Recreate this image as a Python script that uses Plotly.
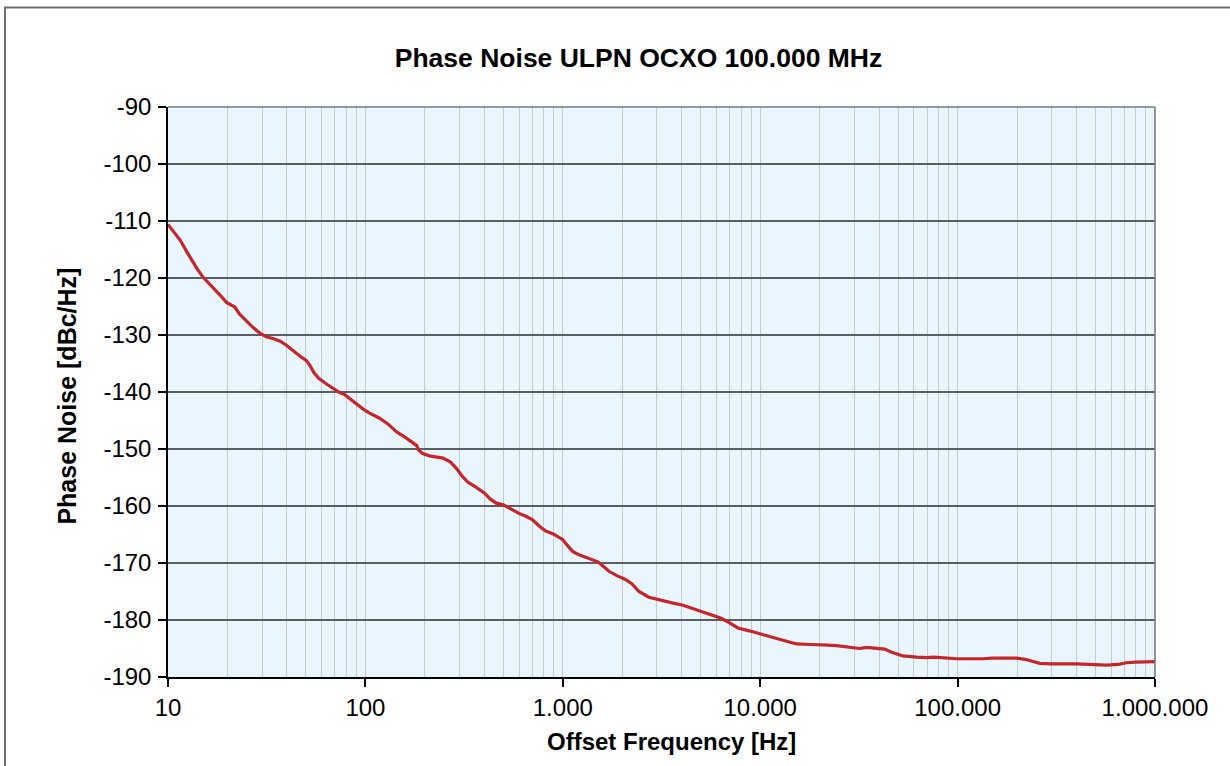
import plotly.graph_objects as go

freq_hz = [10, 11, 11.5, 12.5, 13.4, 14, 15, 16.2, 17.6, 18.8, 19.8, 21, 21.8, 23, 24.9, 27, 29.2,
           31.5, 34, 37, 39.8, 43, 47, 50.3, 52.5, 54.8, 58, 63.5, 68, 74, 78, 82, 88, 97.4, 105,
           118, 130, 144, 160, 174, 182, 186, 195, 211, 230, 247, 270, 289, 310, 330, 360, 400,
           430, 460, 500, 540, 600, 650, 700, 764, 820, 895, 950, 1000, 1060, 1125, 1200, 1315,
           1420, 1505, 1620, 1720, 1900, 2080, 2250, 2430, 2730, 3100, 3580, 4064, 4500, 4930,
           5600, 6350, 7000, 7710, 8800, 9940, 11000, 12070, 13500, 15250, 18000, 20800, 22000,
           24300, 28000, 31900, 34500, 38000, 42700, 46000, 52800, 61800, 70000, 76000, 84300,
           98600, 134600, 150000, 198600, 220000, 260600, 300000, 400000, 500000, 567000, 650000,
           716000, 800000, 1000000]
noise_dbc = [-110.6, -112.3, -113.3, -115.5, -117.3, -118.3, -119.8, -121.0, -122.2, -123.4, -124.3,
             -124.8, -125.1, -126.3, -127.5, -128.7, -129.7, -130.3, -130.6, -131.1, -131.8, -132.8,
             -133.8, -134.5, -135.4, -136.6, -137.6, -138.6, -139.3, -140.1, -140.4, -141.0, -141.9,
             -143.0, -143.7, -144.6, -145.6, -147.0, -148.0, -148.9, -149.4, -150.2, -150.8, -151.2,
             -151.4, -151.6, -152.3, -153.4, -154.8, -155.8, -156.6, -157.7, -158.8, -159.5, -159.8,
             -160.5, -161.3, -161.8, -162.4, -163.6, -164.4, -164.9, -165.4, -165.9, -167.0, -168.0,
             -168.5, -169.0, -169.4, -169.8, -170.7, -171.5, -172.3, -172.9, -173.7, -175.0, -176.0,
             -176.5, -177.0, -177.4, -177.9, -178.4, -179.0, -179.7, -180.5, -181.4, -181.9, -182.4,
             -182.9, -183.3, -183.8, -184.2, -184.3, -184.3, -184.4, -184.5, -184.8, -185.0, -184.8,
             -184.9, -185.1, -185.6, -186.3, -186.5, -186.6, -186.5, -186.6, -186.8, -186.8, -186.7,
             -186.7, -186.9, -187.6, -187.7, -187.7, -187.8, -187.9, -187.8, -187.5, -187.4, -187.3]

x_tick_vals = [10, 100, 1000, 10000, 100000, 1000000]
x_tick_text = ["10", "100", "1.000", "10.000", "100.000", "1.000.000"]
y_tick_vals = [-90, -100, -110, -120, -130, -140, -150, -160, -170, -180, -190]
y_tick_text = ["-90", "-100", "-110", "-120", "-130", "-140", "-150", "-160", "-170", "-180", "-190"]
minor_x = [m * 10 ** d for d in range(1, 6) for m in range(2, 10)]

title_text = "Phase Noise ULPN OCXO 100.000 MHz"
x_title = "Offset Frequency [Hz]"
y_title = "Phase Noise [dBc/Hz]"

FONT = "Liberation Sans, Arial, sans-serif"

fig = go.Figure()
fig.add_trace(go.Scatter(x=freq_hz, y=noise_dbc, mode="lines",
                         line=dict(color="#C4262B", width=3.2), showlegend=False))

fig.update_layout(
    width=1230, height=766,
    margin=dict(l=168, r=75, t=107, b=89),
    paper_bgcolor="white", plot_bgcolor="#EAF6FD",
    font=dict(family=FONT, size=24, color="black"),
    title=dict(text="<b>" + title_text + "</b>", font=dict(size=26.5, family=FONT),
               xref="paper", x=0.4767, xanchor="center",
               yref="container", y=1 - 58 / 766, yanchor="middle"),
    xaxis=dict(type="log", range=[1, 6], tickvals=x_tick_vals, ticktext=x_tick_text,
               showgrid=True, gridcolor="#C5CBD3", gridwidth=1.3,
               ticks="outside", ticklen=8, tickwidth=1.5, tickcolor="black",
               showline=True, linecolor="black", linewidth=1.5,
               ticklabelstandoff=0,
               minor=dict(tickvals=minor_x, showgrid=True, gridcolor="#C5CBD3",
                          gridwidth=1.3, ticks=""),
               zeroline=False),
    yaxis=dict(range=[-190, -90], tickvals=y_tick_vals, ticktext=y_tick_text,
               showgrid=True, gridcolor="#5A5E63", gridwidth=1.6,
               ticks="outside", ticklen=8, tickwidth=1.5, tickcolor="black",
               showline=True, linecolor="black", linewidth=1.5,
               ticklabelstandoff=2, zeroline=False),
    annotations=[
        dict(text="<b>" + x_title + "</b>", xref="paper", yref="paper",
             x=0.510, y=-0.1134, xanchor="center", yanchor="middle",
             showarrow=False, font=dict(size=24, family=FONT)),
        dict(text="<b>" + y_title + "</b>", xref="paper", yref="paper",
             x=-0.1023, y=0.492, xanchor="center", yanchor="middle", textangle=-90,
             showarrow=False, font=dict(size=25, family=FONT)),
    ],
    shapes=[
        dict(type="line", xref="paper", yref="paper", x0=0, x1=1, y0=1, y1=1,
             line=dict(color="#7A7A7A", width=1.6), layer="above"),
        dict(type="line", xref="paper", yref="paper", x0=1, x1=1, y0=0, y1=1,
             line=dict(color="#7A7A7A", width=1.6), layer="above"),
        dict(type="rect", xref="paper", yref="paper", x0=-0.1651, x1=1.1, y0=-0.2, y1=1.1747,
             line=dict(color="#6E6E6E", width=2), fillcolor="rgba(0,0,0,0)", layer="above"),
    ],
)

fig.write_html("out.html", config={"displayModeBar": False},
               post_script="document.body.style.margin='0';")
